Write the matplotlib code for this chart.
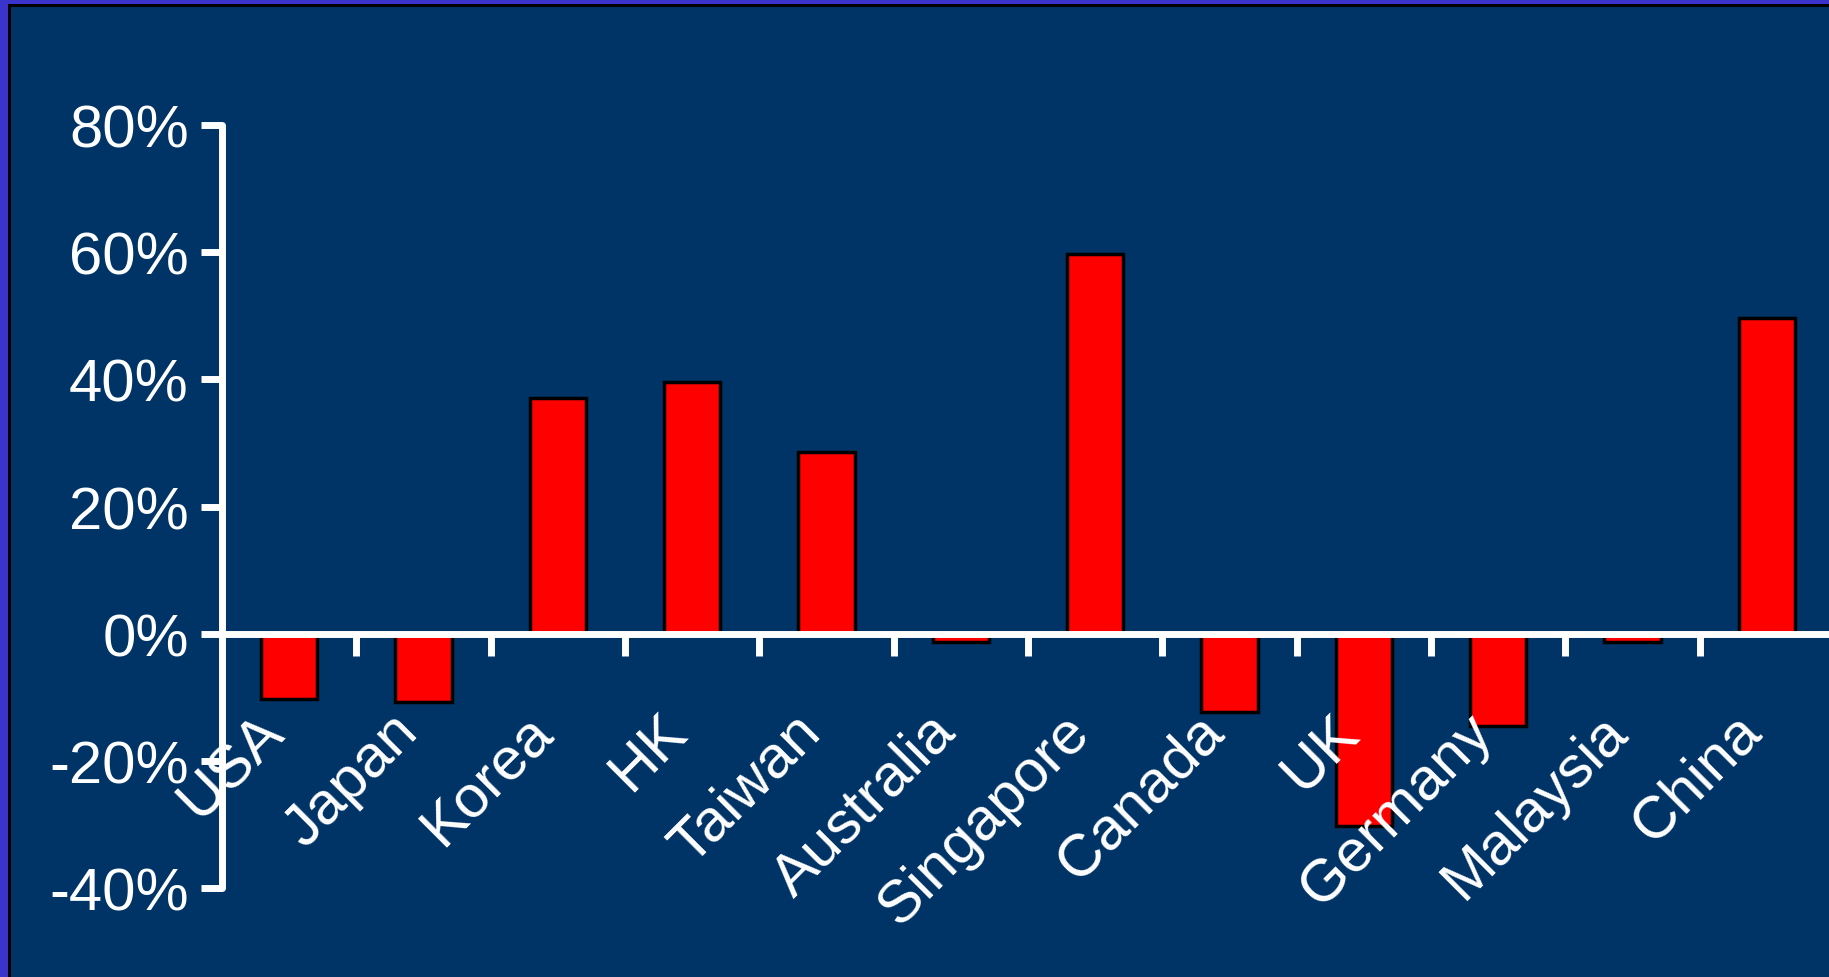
import matplotlib.pyplot as plt
from matplotlib.patches import Rectangle
from matplotlib.transforms import ScaledTranslation

# growth by market, in percent
countries = ["USA", "Japan", "Korea", "HK", "Taiwan", "Australia", "Singapore",
             "Canada", "UK", "Germany", "Malaysia", "China"]
growth = [-10.3, -10.8, 37.1, 39.6, 28.6, -1.3, 59.8, -12.3, -30.3, -14.5, -1.3, 49.7]
yticks = [-40, -20, 0, 20, 40, 60, 80]

NAVY = "#003366"
BORDER = "#3a33cc"
W, H = 1829, 978

plt.rcParams['font.family'] = ['Liberation Sans', 'DejaVu Sans']

fig = plt.figure(figsize=(W / 100, H / 100), dpi=100, facecolor=BORDER)
# dark panel with a thin black edge inside the blue frame
fig.patches.append(Rectangle((8 / W, -0.01), 1.1, (H - 5) / H + 0.01, transform=fig.transFigure,
                             facecolor="black", edgecolor="none", zorder=-2))
fig.patches.append(Rectangle((11 / W, -0.01), 1.1, (H - 8) / H + 0.01, transform=fig.transFigure,
                             facecolor=NAVY, edgecolor="none", zorder=-1))

ax = fig.add_axes([222 / W, 0.091, (1834 - 222) / W, 0.780])
ax.set_facecolor("none")

x = range(len(countries))
ax.bar(x, growth, width=0.42, color="red", edgecolor="black", linewidth=2.5, zorder=1)

ax.set_xlim(-0.5, len(countries) - 0.5)
ax.set_ylim(-40, 80)

for side in ["top", "right"]:
    ax.spines[side].set_visible(False)
ax.spines["bottom"].set_position(("data", 0))
for side in ["left", "bottom"]:
    ax.spines[side].set_color("white")
    ax.spines[side].set_linewidth(5)
    ax.spines[side].set_capstyle("round")
    ax.spines[side].set_zorder(3)

ax.set_yticks(yticks)
ax.set_yticklabels([f"{v}%" for v in yticks])
ax.tick_params(axis="y", direction="out", length=15, width=5, color="white",
               labelcolor="white", labelsize=43, pad=9)

# labels at the bar centres, tick marks between the categories
ax.set_xticks(list(x))
ax.set_xticklabels(countries, rotation=45, ha="right", rotation_mode="default")
ax.set_xticks([i + 0.5 for i in x], minor=True)
ax.tick_params(axis="x", which="major", length=0, labelcolor="white", labelsize=43, pad=50)
ax.tick_params(axis="x", which="minor", direction="out", length=16, width=5, color="white")

shift = ScaledTranslation(5 / 100, 0, fig.dpi_scale_trans)
for lbl in ax.get_xticklabels():
    lbl.set_transform(lbl.get_transform() + shift)

fig.savefig("out.png", dpi=100, facecolor=BORDER)
